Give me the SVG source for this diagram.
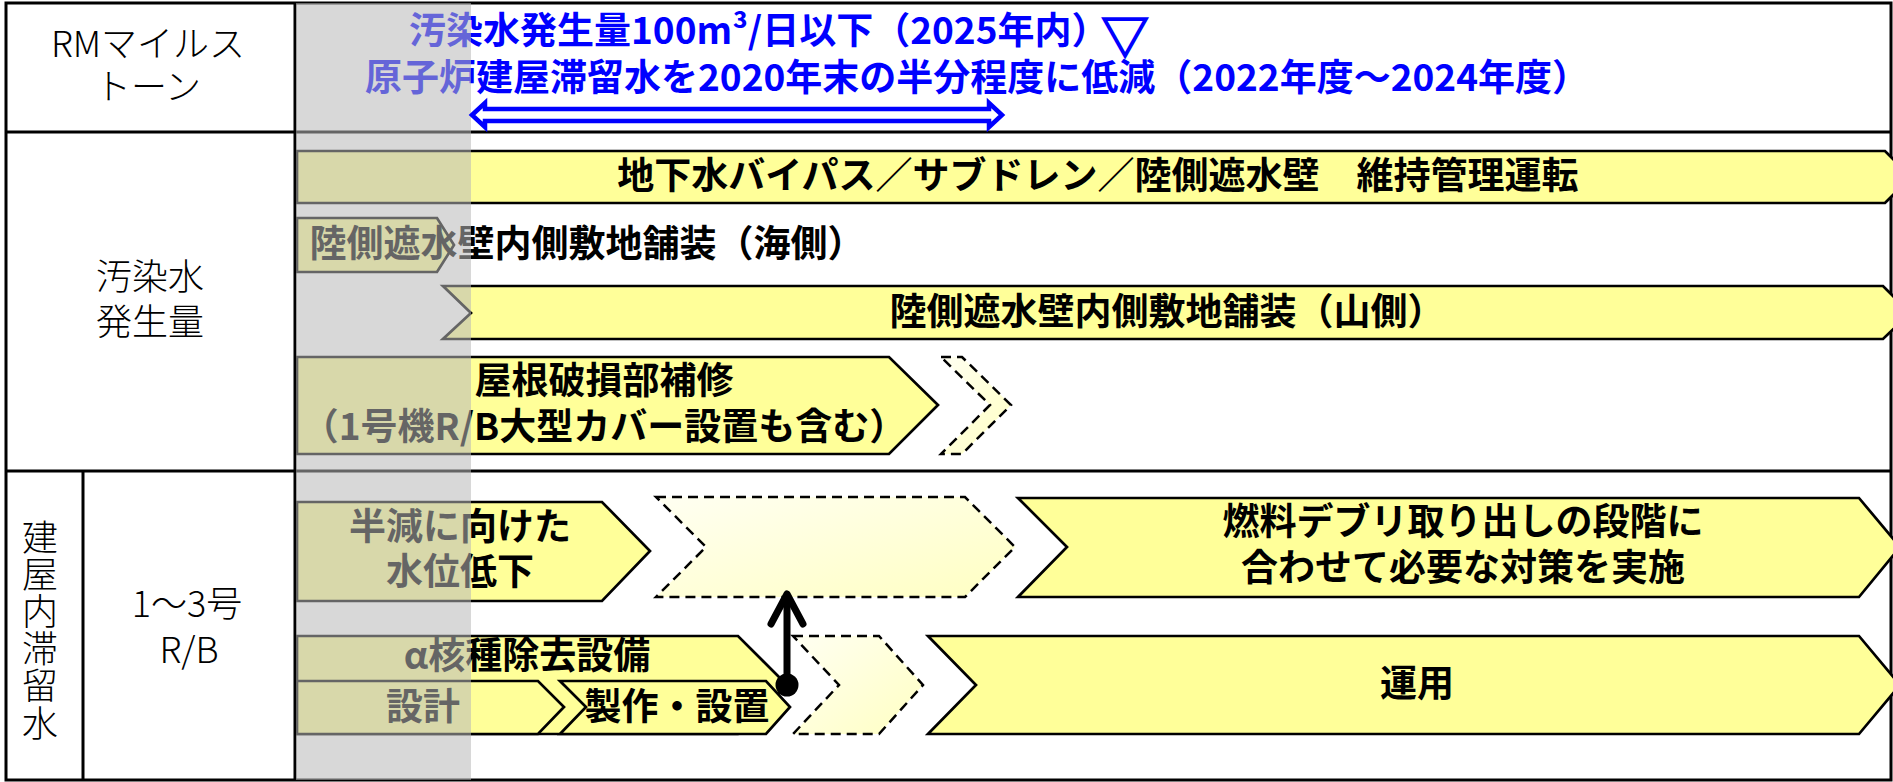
<svg xmlns="http://www.w3.org/2000/svg" width="1893" height="782" viewBox="0 0 1893 782">
<defs>
<linearGradient id="pale" x1="0" y1="0" x2="1" y2="1">
<stop offset="0" stop-color="#fffff2"/>
<stop offset="1" stop-color="#ffffc2"/>
</linearGradient>
</defs>
<style>
.lbl{font-family:"Noto Sans CJK JP","Noto Sans",sans-serif;font-size:36px;font-weight:300;fill:#000;text-anchor:middle}
.bt{font-family:"Noto Sans CJK JP","Noto Sans",sans-serif;font-size:37px;font-weight:700;fill:#000;text-anchor:middle}
.blue{font-family:"Noto Sans CJK JP","Noto Sans",sans-serif;font-size:37px;font-weight:700;fill:#0000ff}
.bar{fill:#ffff99;stroke:#000;stroke-width:2.7;stroke-linejoin:miter}
.dash{fill:url(#pale);stroke:#000;stroke-width:2.5;stroke-dasharray:10 6}
.grid{stroke:#000;stroke-width:3;fill:none}
</style>
<rect x="0" y="0" width="1893" height="782" fill="#fff"/>
<g id="table">
<rect class="grid" x="6" y="3" width="1885" height="777"/>
<line class="grid" x1="6" y1="132" x2="1891" y2="132"/>
<line class="grid" x1="6" y1="471" x2="1891" y2="471"/>
<line class="grid" x1="295" y1="3" x2="295" y2="780"/>
<line class="grid" x1="83" y1="471" x2="83" y2="780"/>
</g>
<g id="label-rm">
<text class="lbl" x="148" y="57">RMマイルス</text>
<text class="lbl" x="148" y="100">トーン</text>
</g>
<g id="label-osensui">
<text class="lbl" x="150" y="290">汚染水</text>
<text class="lbl" x="150" y="335">発生量</text>
</g>
<g id="label-tateya">
<text class="lbl" x="40" y="519" writing-mode="vertical-rl" style="text-anchor:start;letter-spacing:1.2px">建屋内滞留水</text>
</g>
<g id="label-rb">
<text class="lbl" x="187" y="617">1～3号</text>
<text class="lbl" x="189" y="663">R/B</text>
</g>
<g id="milestone">
<text class="blue" x="409" y="44">汚染水発生量100m³/日以下（2025年内）</text>
<text class="blue" x="1101" y="54" style="font-size:48px" stroke="#0000ff" stroke-width="1.6">▽</text>
<text class="blue" x="365" y="91">原子炉建屋滞留水を2020年末の半分程度に低減（2022年度～2024年度）</text>
</g>
<g id="bar-bypass">
<polygon class="bar" points="297,151 1885,151 1911,177 1885,203 297,203"/>
<text class="bt" x="1098" y="189">地下水バイパス／サブドレン／陸側遮水壁　維持管理運転</text>
</g>
<g id="bar-pave-sea">
<polygon class="bar" points="297,218 437,218 454,245 437,272 297,272"/>
<text class="bt" x="587" y="257">陸側遮水壁内側敷地舗装（海側）</text>
</g>
<g id="bar-pave-mountain">
<polygon class="bar" points="443,286 1883,286 1910,313 1883,339 443,339 471,313"/>
<text class="bt" x="1167" y="325">陸側遮水壁内側敷地舗装（山側）</text>
</g>
<g id="bar-roof">
<polygon class="bar" points="297,357 889,357 938,405 889,454 297,454"/>
<text class="bt" x="604" y="394">屋根破損部補修</text>
<text class="bt" x="604" y="440">（1号機R/B大型カバー設置も含む）</text>
</g>
<g id="bar-roof-next">
<polygon class="dash" points="941,357 962,357 1011,405 962,454 941,454 990,405"/>
</g>
<g id="bar-halve">
<polygon class="bar" points="297,502 602,502 650,551 602,601 297,601"/>
<text class="bt" x="460" y="540">半減に向けた</text>
<text class="bt" x="460" y="585">水位低下</text>
</g>
<g id="bar-halve-next">
<polygon class="dash" points="656,497 965,497 1015,547 965,597 656,597 706,547"/>
</g>
<g id="bar-debris">
<polygon class="bar" points="1018,498 1859,498 1900,547 1859,597 1018,597 1067,547"/>
<text class="bt" x="1463" y="535">燃料デブリ取り出しの段階に</text>
<text class="bt" x="1463" y="581">合わせて必要な対策を実施</text>
</g>
<g id="bar-alpha">
<polygon class="bar" points="297,636 738,636 787,685 738,734 297,734"/>
<text class="bt" x="527" y="669">α核種除去設備</text>
</g>
<g id="bar-design">
<polygon class="bar" points="297,681 538,681 564,707 538,734 297,734"/>
<text class="bt" x="423" y="720">設計</text>
</g>
<g id="bar-make">
<polygon class="bar" points="560,681 766,681 790,707 766,734 560,734 586,707"/>
<text class="bt" x="677" y="720">製作・設置</text>
</g>
<g id="bar-alpha-next">
<polygon class="dash" points="793,636 879,636 923,685 879,734 793,734 839,685"/>
</g>
<g id="bar-operate">
<polygon class="bar" points="928,636 1859,636 1900,685 1859,734 928,734 976,685"/>
<text class="bt" x="1417" y="697">運用</text>
</g>
<g id="past-shade">
<rect x="296" y="3" width="175" height="777" fill="#b8b8b8" opacity="0.55"/>
</g>
<g id="connectors">
<polygon points="472,115 485,103 485,109 989,109 989,103 1002,115 989,127 989,121 485,121 485,127" fill="#fff" stroke="#0000ff" stroke-width="4.5" stroke-linejoin="miter"/>
<line x1="787" y1="685" x2="787" y2="597" stroke="#000" stroke-width="7"/>
<polyline points="771,624 787,594 803,624" fill="none" stroke="#000" stroke-width="7" stroke-linecap="round" stroke-linejoin="round"/>
<circle cx="787" cy="685" r="11.5" fill="#000"/>
</g>
</svg>
